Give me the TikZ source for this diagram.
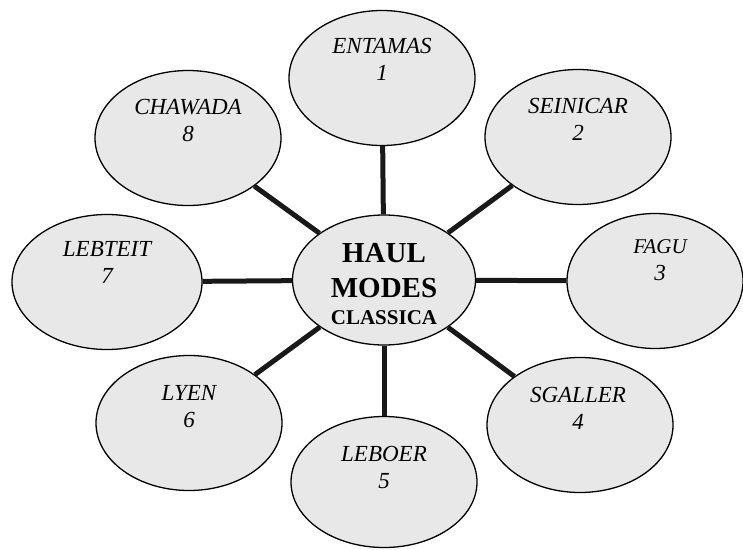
\documentclass[tikz,border=0pt]{standalone}
\usepackage{fontspec}
\setmainfont{Liberation Serif}
\usetikzlibrary{shapes.geometric}
\definecolor{ovalfill}{RGB}{232,232,232}
\definecolor{linkcol}{RGB}{25,25,25}
\tikzset{
  oval/.style={ellipse, draw=black, line width=1.3pt, fill=ovalfill, inner sep=0pt},
  sat/.style={oval, minimum width=186pt, minimum height=135pt},
  hub/.style={oval, minimum width=183pt, minimum height=130pt},
  satlab/.style={align=center, inner sep=0pt, font=\fontsize{23}{27}\selectfont\itshape},
  hublab/.style={align=center, inner sep=0pt, font=\fontsize{29}{35}\selectfont\bfseries},
  link/.style={draw=linkcol, line width=5pt}
}
\begin{document}
\begin{tikzpicture}[x=1pt,y=-1pt]
\useasboundingbox (0,0) rectangle (743,549);
% hub
\node[hub] (c) at (384,280) {};
% satellites
\node[sat] (e1) at (382,78) {};
\node[sat] (e2) at (578,137) {};
\node[sat, minimum width=176pt] (e3) at (655,281) {};
\node[sat] (e4) at (580,425) {};
\node[sat, minimum height=131pt] (e5) at (384,482) {};
\node[sat] (e6) at (189,423) {};
\node[sat, minimum width=190pt] (e7) at (107,282) {};
\node[sat] (e8) at (188,138) {};
% connectors
\foreach \e in {e1,e2,e3,e4,e5,e6,e7,e8} {
  \draw[link] (c) -- (\e);
}
% labels
\node[satlab] (t1) at ([shift={(0,-19)}]e1.center) {ENTAMAS\\1};
\node[satlab] (t2) at ([shift={(0,-18)}]e2.center) {SEINICAR\\2};
\node[satlab] (t3) at ([shift={(5,-21)}]e3.center) {\fontsize{21}{25}\selectfont FAGU\\3};
\node[satlab] (t4) at ([shift={(-2,-17)}]e4.center) {SGALLER\\4};
\node[satlab] (t5) at ([shift={(0,-15)}]e5.center) {LEBOER\\5};
\node[satlab] (t6) at ([shift={(0,-16)}]e6.center) {LYEN\\6};
\node[satlab] (t7) at ([shift={(0,-20)}]e7.center) {LEBTEIT\\7};
\node[satlab] (t8) at ([shift={(0,-18)}]e8.center) {CHAWADA\\8};
\node[hublab] (th) at ([shift={(0,4)}]c.center) {HAUL\\MODES\\[-8pt]{\fontsize{21}{26}\selectfont CLASSICA}};
\end{tikzpicture}
\end{document}
